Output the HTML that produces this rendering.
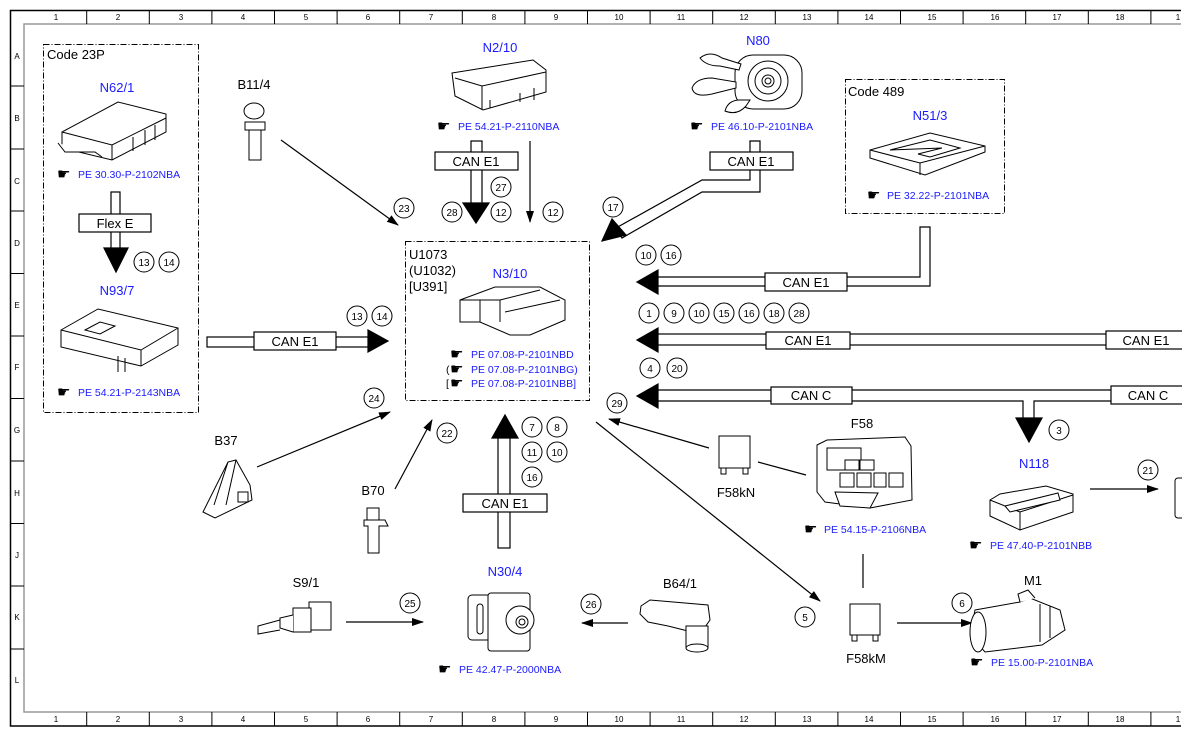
<!DOCTYPE html>
<html><head><meta charset="utf-8"><style>
html,body{margin:0;padding:0;background:#fff;}
svg{display:block;font-family:"Liberation Sans","DejaVu Sans",sans-serif;}
.lb{font-size:13px;fill:#000;}
.bl{font-size:13px;fill:#1a1aff;}
.rf{font-size:10.5px;fill:#1a1aff;}
.hd{font-size:15px;fill:#000;}
.cn{font-size:10px;fill:#000;text-anchor:middle;}
.gr{font-size:8px;fill:#000;text-anchor:middle;}
.dv{fill:#fff;stroke:#000;stroke-width:1;}
</style></head><body>
<svg width="1190" height="736" viewBox="0 0 1190 736" xmlns="http://www.w3.org/2000/svg">
<defs>
<marker id="ah" markerWidth="12" markerHeight="8" refX="11" refY="4" orient="auto" markerUnits="userSpaceOnUse"><path d="M0,0 L12,4 L0,8 z" fill="#000"/></marker>
<clipPath id="cp"><rect x="0" y="0" width="1182" height="736"/></clipPath>
</defs>
<g clip-path="url(#cp)">
<!-- frame -->
<g stroke="#000" fill="none">
<path d="M1181,10.5 H10.5 V726 H1181" stroke-width="1.5"/>
<path d="M1181,24 H24 V712 H1181" stroke="#999" stroke-width="1.5"/>
</g>
<g stroke="#000" stroke-width="1">
<line x1="86.7" y1="10" x2="86.7" y2="24"/><line x1="149.3" y1="10" x2="149.3" y2="24"/><line x1="211.9" y1="10" x2="211.9" y2="24"/><line x1="274.5" y1="10" x2="274.5" y2="24"/><line x1="337.1" y1="10" x2="337.1" y2="24"/><line x1="399.7" y1="10" x2="399.7" y2="24"/><line x1="462.3" y1="10" x2="462.3" y2="24"/><line x1="524.9" y1="10" x2="524.9" y2="24"/><line x1="587.5" y1="10" x2="587.5" y2="24"/><line x1="650.1" y1="10" x2="650.1" y2="24"/><line x1="712.7" y1="10" x2="712.7" y2="24"/><line x1="775.3" y1="10" x2="775.3" y2="24"/><line x1="837.9" y1="10" x2="837.9" y2="24"/><line x1="900.5" y1="10" x2="900.5" y2="24"/><line x1="963.1" y1="10" x2="963.1" y2="24"/><line x1="1025.7" y1="10" x2="1025.7" y2="24"/><line x1="1088.3" y1="10" x2="1088.3" y2="24"/><line x1="1150.9" y1="10" x2="1150.9" y2="24"/>
<line x1="86.7" y1="712" x2="86.7" y2="726"/><line x1="149.3" y1="712" x2="149.3" y2="726"/><line x1="211.9" y1="712" x2="211.9" y2="726"/><line x1="274.5" y1="712" x2="274.5" y2="726"/><line x1="337.1" y1="712" x2="337.1" y2="726"/><line x1="399.7" y1="712" x2="399.7" y2="726"/><line x1="462.3" y1="712" x2="462.3" y2="726"/><line x1="524.9" y1="712" x2="524.9" y2="726"/><line x1="587.5" y1="712" x2="587.5" y2="726"/><line x1="650.1" y1="712" x2="650.1" y2="726"/><line x1="712.7" y1="712" x2="712.7" y2="726"/><line x1="775.3" y1="712" x2="775.3" y2="726"/><line x1="837.9" y1="712" x2="837.9" y2="726"/><line x1="900.5" y1="712" x2="900.5" y2="726"/><line x1="963.1" y1="712" x2="963.1" y2="726"/><line x1="1025.7" y1="712" x2="1025.7" y2="726"/><line x1="1088.3" y1="712" x2="1088.3" y2="726"/><line x1="1150.9" y1="712" x2="1150.9" y2="726"/>
<line x1="10" y1="86" x2="24" y2="86"/><line x1="10" y1="149" x2="24" y2="149"/><line x1="10" y1="211" x2="24" y2="211"/><line x1="10" y1="273.5" x2="24" y2="273.5"/><line x1="10" y1="336" x2="24" y2="336"/><line x1="10" y1="398.5" x2="24" y2="398.5"/><line x1="10" y1="461" x2="24" y2="461"/><line x1="10" y1="523.5" x2="24" y2="523.5"/><line x1="10" y1="586" x2="24" y2="586"/><line x1="10" y1="649" x2="24" y2="649"/>
</g>
<g class="gr">
<text x="56" y="20">1</text><text x="118" y="20">2</text><text x="181" y="20">3</text><text x="243" y="20">4</text><text x="306" y="20">5</text><text x="368" y="20">6</text><text x="431" y="20">7</text><text x="494" y="20">8</text><text x="556" y="20">9</text><text x="619" y="20">10</text><text x="681" y="20">11</text><text x="744" y="20">12</text><text x="807" y="20">13</text><text x="869" y="20">14</text><text x="932" y="20">15</text><text x="995" y="20">16</text><text x="1057" y="20">17</text><text x="1120" y="20">18</text><text x="1178" y="20">1</text>
<text x="56" y="722">1</text><text x="118" y="722">2</text><text x="181" y="722">3</text><text x="243" y="722">4</text><text x="306" y="722">5</text><text x="368" y="722">6</text><text x="431" y="722">7</text><text x="494" y="722">8</text><text x="556" y="722">9</text><text x="619" y="722">10</text><text x="681" y="722">11</text><text x="744" y="722">12</text><text x="807" y="722">13</text><text x="869" y="722">14</text><text x="932" y="722">15</text><text x="995" y="722">16</text><text x="1057" y="722">17</text><text x="1120" y="722">18</text><text x="1178" y="722">1</text>
<text x="17" y="59">A</text><text x="17" y="121">B</text><text x="17" y="184">C</text><text x="17" y="246">D</text><text x="17" y="308">E</text><text x="17" y="370">F</text><text x="17" y="433">G</text><text x="17" y="496">H</text><text x="17" y="558">J</text><text x="17" y="620">K</text><text x="17" y="683">L</text>
</g>

<!-- dash-dot boxes -->
<g fill="none" stroke="#000" stroke-width="1" stroke-dasharray="6,2,1,2">
<rect x="43.5" y="44.5" width="155" height="368"/>
<rect x="405.5" y="241.5" width="184" height="159"/>
<rect x="845.5" y="79.5" width="159" height="134"/>
</g>

<!-- labels -->
<text class="lb" x="47" y="59">Code 23P</text>
<text class="bl" x="117" y="92" text-anchor="middle">N62/1</text>
<text class="bl" x="117" y="295" text-anchor="middle">N93/7</text>
<text class="lb" x="254" y="89" text-anchor="middle">B11/4</text>
<text class="bl" x="500" y="52" text-anchor="middle">N2/10</text>
<text class="bl" x="758" y="45" text-anchor="middle">N80</text>
<text class="lb" x="848" y="96">Code 489</text>
<text class="bl" x="930" y="120" text-anchor="middle">N51/3</text>
<text class="lb" x="409" y="259">U1073</text>
<text class="lb" x="409" y="275">(U1032)</text>
<text class="lb" x="409" y="291">[U391]</text>
<text class="bl" x="510" y="278" text-anchor="middle">N3/10</text>
<text class="lb" x="226" y="445" text-anchor="middle">B37</text>
<text class="lb" x="373" y="495" text-anchor="middle">B70</text>
<text class="lb" x="306" y="587" text-anchor="middle">S9/1</text>
<text class="bl" x="505" y="576" text-anchor="middle">N30/4</text>
<text class="lb" x="680" y="588" text-anchor="middle">B64/1</text>
<text class="lb" x="862" y="428" text-anchor="middle">F58</text>
<text class="lb" x="736" y="497" text-anchor="middle">F58kN</text>
<text class="lb" x="866" y="663" text-anchor="middle">F58kM</text>
<text class="bl" x="1034" y="468" text-anchor="middle">N118</text>
<text class="lb" x="1033" y="585" text-anchor="middle">M1</text>

<!-- refs -->
<g>
<text class="hd" x="57" y="179">☛</text><text class="rf" x="78" y="178">PE 30.30-P-2102NBA</text>
<text class="hd" x="57" y="397">☛</text><text class="rf" x="78" y="396">PE 54.21-P-2143NBA</text>
<text class="hd" x="437" y="131">☛</text><text class="rf" x="458" y="130">PE 54.21-P-2110NBA</text>
<text class="hd" x="690" y="131">☛</text><text class="rf" x="711" y="130">PE 46.10-P-2101NBA</text>
<text class="hd" x="867" y="200">☛</text><text class="rf" x="887" y="199">PE 32.22-P-2101NBA</text>
<text class="hd" x="450" y="359">☛</text><text class="rf" x="471" y="358">PE 07.08-P-2101NBD</text>
<text class="rf" x="446" y="373" fill="#000" style="fill:#000">(</text><text class="hd" x="450" y="374">☛</text><text class="rf" x="471" y="373">PE 07.08-P-2101NBG)</text>
<text class="rf" x="446" y="387" style="fill:#000">[</text><text class="hd" x="450" y="388">☛</text><text class="rf" x="471" y="387">PE 07.08-P-2101NBB]</text>
<text class="hd" x="438" y="674">☛</text><text class="rf" x="459" y="673">PE 42.47-P-2000NBA</text>
<text class="hd" x="804" y="534">☛</text><text class="rf" x="824" y="533">PE 54.15-P-2106NBA</text>
<text class="hd" x="969" y="550">☛</text><text class="rf" x="990" y="549">PE 47.40-P-2101NBB</text>
<text class="hd" x="970" y="667">☛</text><text class="rf" x="991" y="666">PE 15.00-P-2101NBA</text>
</g>

<!-- buses -->
<g fill="#fff" stroke="#000" stroke-width="1.2">
<rect x="111" y="192" width="9" height="58"/>
<path d="M104,248 H128 L116,272 z" fill="#000"/>
<rect x="79" y="214" width="72" height="18"/>
<rect x="207" y="337" width="163" height="10"/>
<path d="M368,330 V352 L388,341 z" fill="#000"/>
<rect x="254" y="332" width="82" height="18"/>
<rect x="471" y="141" width="11" height="64"/>
<path d="M463,203 H489 L476,223 z" fill="#000"/>
<rect x="435" y="152" width="83" height="18"/>
<path d="M750,141 H760 V192 H702 L622,238 L616,228 L702,180 H750 z"/>
<path d="M602,241 L612,219 L626,235 z" fill="#000"/>
<rect x="710" y="152" width="83" height="18"/>
<path d="M930,227 V286 H656 V277 H920 V227 z"/>
<path d="M658,270 V294 L637,282 z" fill="#000"/>
<rect x="765" y="273" width="82" height="18"/>
<rect x="656" y="334" width="540" height="11"/>
<path d="M658,328 V352 L637,340 z" fill="#000"/>
<rect x="766" y="332" width="84" height="17"/>
<rect x="1106" y="331" width="90" height="18"/>
<path d="M656,390 H1196 V401 H1034 V420 H1023 V401 H656 z"/>
<path d="M658,384 V408 L637,396 z" fill="#000"/>
<path d="M1016,418 H1042 L1029,442 z" fill="#000"/>
<rect x="771" y="387" width="81" height="17"/>
<rect x="1111" y="386" width="85" height="18"/>
<rect x="498" y="436" width="12" height="112"/>
<path d="M492,438 H518 L505,415 z" fill="#000"/>
<rect x="463" y="494" width="84" height="18"/>
</g>
<g font-size="13" text-anchor="middle" fill="#000">
<text x="115" y="228">Flex E</text>
<text x="295" y="346">CAN E1</text>
<text x="476" y="166">CAN E1</text>
<text x="751" y="166">CAN E1</text>
<text x="806" y="287">CAN E1</text>
<text x="808" y="345">CAN E1</text>
<text x="1146" y="345">CAN E1</text>
<text x="811" y="400">CAN C</text>
<text x="1148" y="400">CAN C</text>
<text x="505" y="508">CAN E1</text>
</g>

<!-- thin arrows -->
<g stroke="#000" stroke-width="1.2" fill="none" marker-end="url(#ah)">
<line x1="281" y1="140" x2="398" y2="225"/>
<line x1="530" y1="141" x2="530" y2="222"/>
<line x1="257" y1="467" x2="390" y2="412"/>
<line x1="395" y1="489" x2="432" y2="420"/>
<line x1="346" y1="622" x2="423" y2="622"/>
<line x1="628" y1="623" x2="582" y2="623"/>
<line x1="709" y1="448" x2="609" y2="419"/>
<line x1="596" y1="422" x2="820" y2="601"/>
<line x1="897" y1="623" x2="972" y2="623"/>
<line x1="1090" y1="489" x2="1158" y2="489"/>
</g>
<g stroke="#000" stroke-width="1.2">
<line x1="758" y1="462" x2="806" y2="475"/>
<line x1="863" y1="554" x2="863" y2="588"/>
</g>

<!-- number circles -->
<g fill="#fff" stroke="#000" stroke-width="1">
<circle cx="144" cy="262" r="10"/><circle cx="169" cy="262" r="10"/>
<circle cx="357" cy="316" r="10"/><circle cx="382" cy="316" r="10"/>
<circle cx="404" cy="208" r="10"/>
<circle cx="452" cy="212" r="10"/><circle cx="501" cy="187" r="10"/><circle cx="501" cy="212" r="10"/><circle cx="553" cy="212" r="10"/>
<circle cx="613" cy="207" r="10"/>
<circle cx="646" cy="255" r="10"/><circle cx="671" cy="255" r="10"/>
<circle cx="649" cy="313" r="10"/><circle cx="674" cy="313" r="10"/><circle cx="699" cy="313" r="10"/><circle cx="724" cy="313" r="10"/><circle cx="749" cy="313" r="10"/><circle cx="774" cy="313" r="10"/><circle cx="799" cy="313" r="10"/>
<circle cx="650" cy="368" r="10"/><circle cx="677" cy="368" r="10"/>
<circle cx="617" cy="403" r="10"/>
<circle cx="1059" cy="430" r="10"/>
<circle cx="374" cy="398" r="10"/><circle cx="447" cy="433" r="10"/>
<circle cx="532" cy="427" r="10"/><circle cx="557" cy="427" r="10"/><circle cx="532" cy="452" r="10"/><circle cx="557" cy="452" r="10"/><circle cx="532" cy="477" r="10"/>
<circle cx="410" cy="603" r="10"/><circle cx="591" cy="604" r="10"/><circle cx="805" cy="617" r="10"/><circle cx="962" cy="603" r="10"/><circle cx="1148" cy="470" r="10"/>
</g>
<g class="cn">
<text x="144" y="266">13</text><text x="169" y="266">14</text>
<text x="357" y="320">13</text><text x="382" y="320">14</text>
<text x="404" y="212">23</text>
<text x="452" y="216">28</text><text x="501" y="191">27</text><text x="501" y="216">12</text><text x="553" y="216">12</text>
<text x="613" y="211">17</text>
<text x="646" y="259">10</text><text x="671" y="259">16</text>
<text x="649" y="317">1</text><text x="674" y="317">9</text><text x="699" y="317">10</text><text x="724" y="317">15</text><text x="749" y="317">16</text><text x="774" y="317">18</text><text x="799" y="317">28</text>
<text x="650" y="372">4</text><text x="677" y="372">20</text>
<text x="617" y="407">29</text>
<text x="1059" y="434">3</text>
<text x="374" y="402">24</text><text x="447" y="437">22</text>
<text x="532" y="431">7</text><text x="557" y="431">8</text><text x="532" y="456">11</text><text x="557" y="456">10</text><text x="532" y="481">16</text>
<text x="410" y="607">25</text><text x="591" y="608">26</text><text x="805" y="621">5</text><text x="962" y="607">6</text><text x="1148" y="474">21</text>
</g>

<!-- device sketches -->
<g class="dv">
<path d="M62,132 L118,102 L166,114 L166,132 L112,160 L62,148 z"/>
<path d="M62,132 L112,145 L166,118 M112,145 V160"/>
<path d="M133,137 V151 M145,130 V145 M155,125 V140"/>
<path d="M58,143 L65,152 L95,152 L102,157"/>
<path d="M61,330 L98,309 L178,328 L178,345 L141,366 L61,347 z"/>
<path d="M61,330 L141,350 L178,328 M141,350 V366"/>
<path d="M85,330 L100,322 L115,326 L100,334 z"/>
<path d="M118,356 V372 M125,358 V372"/>
<ellipse cx="254" cy="111" rx="10" ry="8"/>
<rect x="245" y="122" width="20" height="8"/>
<rect x="249" y="130" width="12" height="30"/>
<path d="M452,73 L533,60 L546,70 L546,92 L483,110 L455,96 z"/>
<path d="M455,78 L482,86 L546,72 M482,86 V110"/>
<path d="M490,100 V108 M520,93 V102 M534,88 V100"/>
<rect x="735" y="55" width="67" height="54" rx="18"/>
<circle cx="768" cy="81" r="20"/><circle cx="768" cy="81" r="13"/><circle cx="768" cy="81" r="6"/><circle cx="768" cy="81" r="3"/>
<path d="M700,58 Q710,50 722,58 L741,64 L739,70 L720,66 Q706,66 700,58 z"/>
<path d="M692,88 Q696,78 712,78 L736,82 L736,88 L712,94 Q694,98 692,88 z"/>
<path d="M725,111 Q728,100 740,100 L750,100 L746,106 Q737,116 725,111 z"/>
<path d="M870,150 L930,133 L985,146 L985,152 L925,175 L870,158 z"/>
<path d="M870,150 L920,163 L985,146 M920,163 V175"/>
<path d="M890,150 L930,140 L960,148 L930,157 L918,154 L942,148 z"/>
<path d="M460,300 L495,287 L540,287 L565,300 L565,320 L530,335 L510,335 L480,322 L460,322 z"/>
<path d="M460,300 L500,300 L500,322 M480,300 L480,322"/>
<path d="M500,300 L540,290 M505,312 L560,300"/>
<path d="M208,502 L228,462 L236,460 L250,485 L252,500 L215,518 L203,512 z"/>
<path d="M228,462 L214,505 M236,460 L226,505"/>
<rect x="238" y="492" width="10" height="10"/>
<rect x="367" y="508" width="12" height="12"/>
<path d="M364,520 H385 L388,526 L379,526 V553 H368 V526 H364 z"/>
<rect x="468" y="595" width="30" height="45" rx="4"/>
<rect x="488" y="593" width="42" height="58" rx="3"/>
<circle cx="520" cy="620" r="14"/><circle cx="522" cy="622" r="6"/><circle cx="522" cy="622" r="3"/>
<rect x="477" y="604" width="6" height="30" rx="3"/>
<rect x="309" y="602" width="22" height="28"/>
<rect x="293" y="608" width="18" height="24"/>
<path d="M293,615 L280,618 L280,628 L293,632 M280,620 L258,626 L258,634 L280,630"/>
<path d="M641,606 L650,600 L708,605 L710,620 L700,634 L668,626 L648,622 L640,614 z"/>
<path d="M686,626 H708 V648 H686 z"/>
<ellipse cx="697" cy="648" rx="11" ry="4"/>
<rect x="719" y="436" width="31" height="32"/>
<rect x="721" y="468" width="5" height="6"/><rect x="743" y="468" width="5" height="6"/>
<rect x="850" y="604" width="30" height="31"/>
<rect x="852" y="635" width="5" height="6"/><rect x="873" y="635" width="5" height="6"/>
<path d="M817,445 L827,440 L905,437 L911,446 L912,500 L870,508 L825,502 L817,492 z"/>
<rect x="827" y="448" width="34" height="22"/><rect x="845" y="460" width="14" height="10"/><rect x="860" y="460" width="14" height="10"/>
<rect x="840" y="473" width="14" height="14"/><rect x="857" y="473" width="14" height="14"/><rect x="874" y="473" width="12" height="14"/><rect x="889" y="473" width="14" height="14"/>
<path d="M835,492 L878,493 L870,508 L840,506 z"/>
<path d="M990,500 L1000,494 L1046,486 L1073,494 L1073,512 L1020,530 L990,516 z"/>
<path d="M990,500 L1020,512 L1073,495 M1020,512 V530"/>
<path d="M1005,506 L1058,493 L1060,500 L1010,512 z"/>
<rect x="1175" y="478" width="10" height="40" rx="3"/>
<path d="M975,610 L1020,602 L1030,598 L1060,610 L1065,630 L1042,645 L985,652 L970,635 z"/>
<ellipse cx="978" cy="632" rx="8" ry="20"/>
<path d="M1020,602 L1018,594 L1028,590 L1035,598"/>
<path d="M1040,604 V642 M1050,606 V638"/>
</g>
</g>
</svg>
</body></html>
